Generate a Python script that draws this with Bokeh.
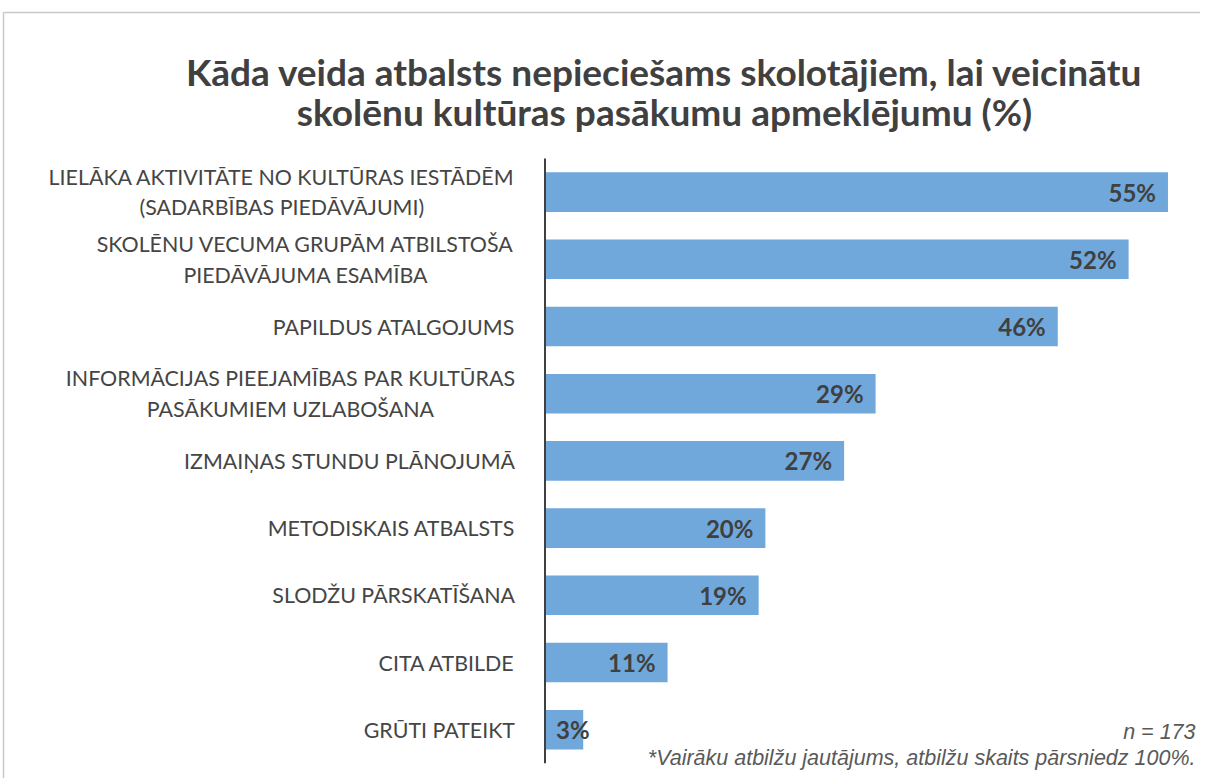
from bokeh.plotting import figure
from bokeh.models import ColumnDataSource, Range1d
from bokeh.core.properties import value
from bokeh.embed import file_html
from bokeh.resources import INLINE

# ---------------- data ----------------
categories = [
    "LIELĀKA AKTIVITĀTE NO KULTŪRAS IESTĀDĒM\n(SADARBĪBAS PIEDĀVĀJUMI)",
    "SKOLĒNU VECUMA GRUPĀM ATBILSTOŠA\nPIEDĀVĀJUMA ESAMĪBA",
    "PAPILDUS ATALGOJUMS",
    "INFORMĀCIJAS PIEEJAMĪBAS PAR KULTŪRAS\nPASĀKUMIEM UZLABOŠANA",
    "IZMAIŅAS STUNDU PLĀNOJUMĀ",
    "METODISKAIS ATBALSTS",
    "SLODŽU PĀRSKATĪŠANA",
    "CITA ATBILDE",
    "GRŪTI PATEIKT",
]
values = [55.4, 51.9, 45.6, 29.4, 26.6, 19.6, 19.0, 10.9, 3.4]
title_lines = [
    "Kāda veida atbalsts nepieciešams skolotājiem, lai veicinātu",
    "skolēnu kultūras pasākumu apmeklējumu (%)",
]
notes = ["n = 173", "*Vairāku atbilžu jautājums, atbilžu skaits pārsniedz 100%."]

# ---------------- layout (canvas pixels) ----------------
W, H = 1200, 778
AXIS_X = 544.5      # canvas x of the value axis (0 %)
PX_PER_PCT = 11.245
TOP = 158.0         # canvas y of the top of the category band area
BAND = 67.2         # pixel height of one category band

def xd(cx):
    return (cx - AXIS_X) / PX_PER_PCT

def yd(cy):
    return (cy - TOP) / BAND

p = figure(
    width=W, height=H,
    x_range=Range1d(xd(0), xd(W)),
    y_range=Range1d(yd(H), yd(0)),
    output_backend="svg", toolbar_location=None,
    x_axis_location=None, y_axis_location=None,
    min_border=0, outline_line_color=None,
    background_fill_color="white", border_fill_color="white",
)
p.grid.visible = False

n = len(categories)
ys = [i + 0.5 for i in range(n)]
inside = [v >= 5 for v in values]
src = ColumnDataSource(dict(
    y=ys,
    v=values,
    cat=categories,
    lab=[f"{round(v)}%" for v in values],
    lx=[v if ok else 0 for v, ok in zip(values, inside)],
    lalign=["right" if ok else "left" for ok in inside],
    loff=[-12 if ok else 11 for ok in inside],
))

# decorative frame (top + left)
p.segment(x0=[xd(3), xd(3)], y0=[yd(12), yd(12)], x1=[xd(W), xd(3)], y1=[yd(12), yd(H)],
          line_color="#c8c8c8", line_width=1.5)

# bars
p.hbar(y="y", left=0, right="v", height=0.59, source=src,
       fill_color="#70A8DC", line_color=None)

# value axis line
p.segment(x0=[0], y0=[0], x1=[0], y1=[n], line_color="#404040", line_width=2)

# category labels
p.text(x=xd(AXIS_X - 30), y="y", text="cat", source=src,
       anchor="center_right", text_align="center", text_baseline="middle",
       text_font=value("Lato"), text_font_size="21.4px", text_color="#454545",
       text_line_height=1.18)

# value labels
p.text(x="lx", y="y", text="lab", source=src, x_offset="loff",
       text_align="lalign", text_baseline="middle",
       text_font=value("Lato"), text_font_style="bold", text_font_size="24px",
       text_color="#404040")

# title
p.text(x=[xd(664)] * 2, y=[yd(71), yd(111)], text=title_lines,
       text_align="center", text_baseline="middle",
       text_font=value("Lato"), text_font_style="bold", text_font_size="37px",
       text_color="#404040")

# footnotes
p.text(x=[xd(1195)] * 2, y=[yd(731), yd(757)], text=notes,
       text_align="right", text_baseline="middle",
       text_font=value("Liberation Sans"), text_font_style="italic",
       text_font_size="21.5px", text_color="#595959")

open("out.html", "w").write(file_html(p, INLINE))
